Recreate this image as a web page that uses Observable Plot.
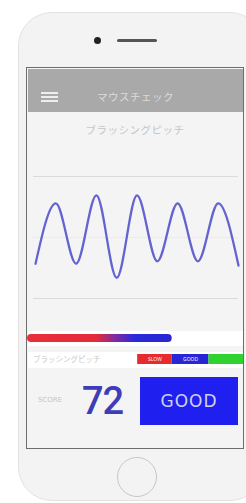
<!DOCTYPE html>
<html><head><meta charset="utf-8">
<script src="https://cdn.jsdelivr.net/npm/d3@7"></script>
<script src="https://cdn.jsdelivr.net/npm/@observablehq/plot@0.6"></script>
<style>
html,body{margin:0;padding:0;background:#fff;}
#page{position:relative;width:246px;height:503px;overflow:hidden;font-family:"Noto Sans CJK JP","Noto Sans",sans-serif;}
.abs{position:absolute;}
.txt{position:absolute;white-space:nowrap;}
</style></head><body>
<div id="page">
  <div class="abs" style="left:18px;top:12px;width:246px;height:489px;border-radius:34px;background:#f3f3f3;border:1px solid #e2e2e2;box-sizing:border-box"></div>
  <div class="abs" style="left:94px;top:37px;width:7px;height:7px;border-radius:50%;background:#222"></div>
  <div class="abs" style="left:117px;top:39px;width:40px;height:3px;border-radius:2px;background:#555"></div>
  <div class="abs" style="left:26px;top:67px;width:218px;height:382px;border:1.5px solid #6e6e6e;box-sizing:border-box;background:#f4f4f4"></div>
  <div class="abs" style="left:27.5px;top:68.5px;width:215px;height:43.5px;background:#a9a9a9"></div>
  <div class="abs" style="left:41px;top:92px;width:17px;height:2px;background:#eee"></div>
  <div class="abs" style="left:41px;top:96px;width:17px;height:2px;background:#eee"></div>
  <div class="abs" style="left:41px;top:100px;width:17px;height:2px;background:#eee"></div>
  <div class="txt" id="title" style="left:97px;top:89px;height:16px;line-height:16px;font-size:10.5px;color:#dcdcdc;letter-spacing:0.5px"></div>
  <div class="txt" id="subtitle" style="left:27px;width:216px;text-align:center;top:122px;height:16px;line-height:16px;font-size:10.5px;color:#c6c6c6;letter-spacing:0.5px"></div>
  <div class="abs" id="wave" style="left:27px;top:150px"></div>
  <div class="abs" style="left:27.5px;top:331px;width:215px;height:15px;background:#fff"></div>
  <div class="abs" id="bar" style="left:27px;top:331px"></div>
  <div class="abs" style="left:27.5px;top:352px;width:215px;height:16px;background:#fff"></div>
  <div class="txt" id="barlabel" style="left:33px;top:353px;height:12px;line-height:12px;font-size:7.5px;color:#cacaca"></div>
  <div class="abs" id="segs" style="left:27px;top:352px"></div>
  <div class="txt" id="scoreLabel" style="left:38px;top:395px;height:10px;line-height:10px;font-size:7px;color:#c4c4c4;font-family:'DejaVu Sans'"></div>
  <div class="txt" id="score" style="left:82px;top:380px;height:42px;line-height:42px;font-size:38px;font-weight:500;color:#3d3db8;font-family:Roboto;letter-spacing:-1px"></div>
  <div class="abs" style="left:140px;top:377px;width:98px;height:48px;background:#1f1fef"></div>
  <div class="txt" id="grade" style="left:140px;top:377px;width:98px;height:48px;line-height:48px;text-align:center;font-size:17px;color:#d0d0f0;font-family:'DejaVu Sans';letter-spacing:1px"></div>
  <div class="abs" style="left:117px;top:457px;width:40px;height:40px;border-radius:50%;border:1.5px solid #c6c6c6;box-sizing:border-box"></div>
</div>
<script>
// texts
const titleText = "マウスチェック";
const subtitleText = "ブラッシングピッチ";
const barLabelText = "ブラッシングピッチ";
const scoreLabelText = "SCORE";
const scoreValue = 72;
const gradeText = "GOOD";

// wave (half-period extrema)
const waveT = [0, 1, 2, 3, 4, 5, 6, 7, 8, 9, 10];
const waveV = [-0.43, 0.56, -0.43, 0.69, -0.66, 0.69, -0.39, 0.56, -0.39, 0.56, -0.46];
const gridValues = [-1, 0, 1];

// pitch bar and range segments (0–100)
const pitchValue = 67;
const segLabels = ["SLOW", "GOOD", ""];
const segStarts = [51, 67, 84];
const segEnds = [67, 84, 100];
const segColors = ["#e62a2e", "#2626d6", "#2fd22f"];

document.getElementById("title").textContent = titleText;
document.getElementById("subtitle").textContent = subtitleText;
document.getElementById("barlabel").textContent = barLabelText;
document.getElementById("scoreLabel").textContent = scoreLabelText;
document.getElementById("score").textContent = String(scoreValue);
document.getElementById("grade").textContent = gradeText;

const wave = waveT.map((t, i) => ({t, v: waveV[i]}));
const waveChart = Plot.plot({
  width: 216, height: 170,
  marginTop: 26, marginBottom: 22, marginLeft: 6, marginRight: 5,
  x: {domain: [-0.1, 10], axis: null},
  y: {domain: [-1, 1], axis: null},
  style: {background: "transparent"},
  marks: [
    Plot.ruleY(gridValues, {stroke: d => d === 0 ? "#ececec" : "#dadada", strokeWidth: 1}),
    Plot.line(wave, {x: "t", y: "v", curve: "monotone-x", stroke: "#6464d0", strokeWidth: 2.3})
  ]
});
document.getElementById("wave").appendChild(waveChart);

const barChart = Plot.plot({
  width: 216, height: 15,
  marginTop: 3, marginBottom: 4, marginLeft: 0, marginRight: 0,
  x: {domain: [0, 100], axis: null},
  style: {background: "transparent"},
  marks: [
    Plot.barX([pitchValue], {x1: 0, x2: d => d, fill: "url(#pitchGrad)", rx: 4})
  ]
});
const ns = "http://www.w3.org/2000/svg";
const defs = document.createElementNS(ns, "defs");
const grad = document.createElementNS(ns, "linearGradient");
grad.setAttribute("id", "pitchGrad");
grad.setAttribute("x1", "0"); grad.setAttribute("x2", "1"); grad.setAttribute("y1", "0"); grad.setAttribute("y2", "0");
[["0", "#e8303a"], ["0.48", "#e22a3a"], ["0.62", "#7a2aa8"], ["0.74", "#2a2ad8"], ["1", "#2626d4"]].forEach(([o, c]) => {
  const s = document.createElementNS(ns, "stop");
  s.setAttribute("offset", o); s.setAttribute("stop-color", c);
  grad.appendChild(s);
});
defs.appendChild(grad);
barChart.insertBefore(defs, barChart.firstChild);
document.getElementById("bar").appendChild(barChart);

const segs = segLabels.map((label, i) => ({label, x1: segStarts[i], x2: segEnds[i], color: segColors[i]}));
const segChart = Plot.plot({
  width: 216, height: 16,
  marginTop: 2, marginBottom: 4, marginLeft: 0, marginRight: 0,
  x: {domain: [0, 100], axis: null},
  style: {background: "transparent"},
  marks: [
    Plot.barX(segs, {x1: "x1", x2: "x2", fill: "color"}),
    Plot.text(segs, {x: d => (d.x1 + d.x2) / 2, frameAnchor: "middle", text: "label", fill: "#f4f4f4", fontSize: 5})
  ]
});
document.getElementById("segs").appendChild(segChart);
</script>
</body></html>
